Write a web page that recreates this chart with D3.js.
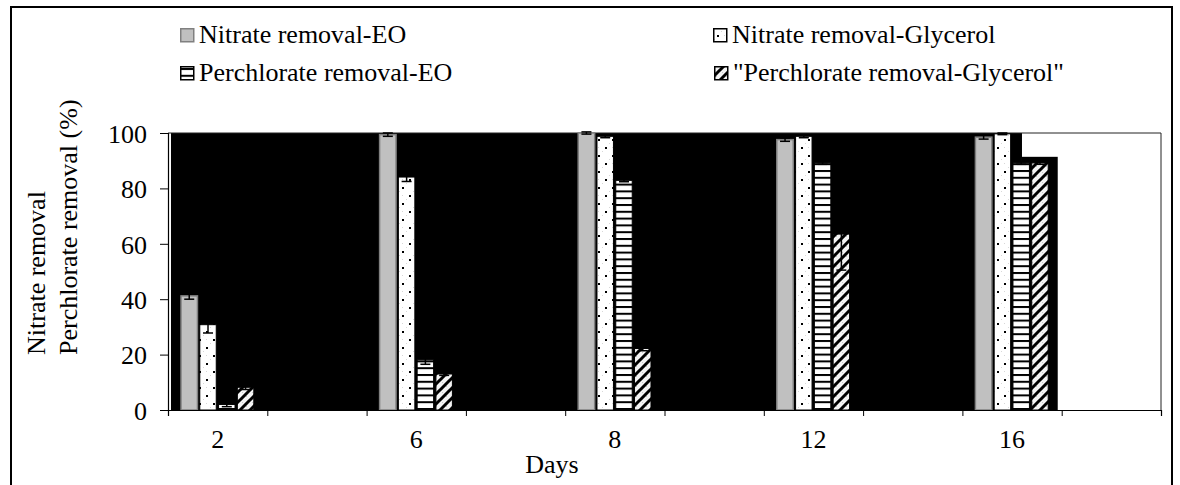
<!DOCTYPE html>
<html><head><meta charset="utf-8">
<script src="https://cdn.jsdelivr.net/npm/d3@7"></script>
<style>
html,body{margin:0;padding:0;background:#fff;}
svg text{font-family:"Liberation Serif","Times New Roman",serif !important;fill:#000;}
</style></head>
<body><svg id="chart" width="1180" height="485"></svg>
<script>
// ---- data ----
const days = ["2", "6", "8", "12", "16"];
const slotCount = 10; // category slots on the axis (labels every other slot)
const seriesNames = ["Nitrate removal-EO", "Nitrate removal-Glycerol", "Perchlorate removal-EO", "\"Perchlorate removal-Glycerol\""];
const nitrateEO = [41.2, 99.4, 100, 97.6, 98.5];
const nitrateGly = [30.8, 84.1, 98.8, 98.8, 99.7];
const perchEO = [2.0, 18.1, 82.9, 89.2, 89.2];
const perchGly = [8.2, 13.0, 22.2, 63.5, 89.2];
const errNitrateEO = [1.2, 0.6, 0.4, 0.6, 0.7];
const errNitrateGly = [3.0, 1.6, 0.5, 0.5, 0.3];
const errPerchEO = [0.8, 1.6, 0.5, 0.5, 0.5];
const errPerchGly = [0.8, 0.5, 0.8, 13.0, 0.5];
const yTicks = [0, 20, 40, 60, 80, 100];
// dark backdrop filling the plot (slot units, value level)
const backdropFrom = [0.03, 8.6];
const backdropTo = [8.6, 8.96];
const backdropLevel = [100, 91.4];

const values = [nitrateEO, nitrateGly, perchEO, perchGly];
const errors = [errNitrateEO, errNitrateGly, errPerchEO, errPerchGly];

const FONT = "'Liberation Serif', 'Times New Roman', serif";
const svg = d3.select("#chart");
const L = 168, R = 1161, T = 133, B = 410;

// patterns
const defs = svg.append("defs");
const pDots = defs.append("pattern").attr("id", "pDots").attr("patternUnits", "userSpaceOnUse").attr("width", 14).attr("height", 16);
pDots.append("rect").attr("width", 14).attr("height", 16).attr("fill", "#fff");
[[0,7],[7,15],[10,3]].forEach(p => pDots.append("rect").attr("x", p[0]).attr("y", p[1]).attr("width", 1).attr("height", 1).attr("fill", "#d8d8d8"));
pDots.append("rect").attr("x", 3).attr("y", 3).attr("width", 2).attr("height", 2).attr("fill", "#000");
pDots.append("rect").attr("x", 10).attr("y", 11).attr("width", 2).attr("height", 2).attr("fill", "#000");

const pH = defs.append("pattern").attr("id", "pH").attr("patternUnits", "userSpaceOnUse").attr("width", 8).attr("height", 6.8);
pH.append("rect").attr("width", 8).attr("height", 6.8).attr("fill", "#fff");
pH.append("rect").attr("y", 0).attr("width", 8).attr("height", 2).attr("fill", "#000");

const pD = defs.append("pattern").attr("id", "pD").attr("patternUnits", "userSpaceOnUse").attr("width", 10).attr("height", 10);
pD.append("rect").attr("width", 10).attr("height", 10).attr("fill", "#f4f4f4");
[[2,2],[6,6],[1,7],[7,1]].forEach(p => pD.append("rect").attr("x", p[0]).attr("y", p[1]).attr("width", 1).attr("height", 1).attr("fill", "#c8c8c8"));
pD.append("path").attr("d", "M-2,2 L2,-2 M0,10 L10,0 M8,12 L12,8").attr("stroke", "#000").attr("stroke-width", 3);

const fills = ["#c0c0c0", "url(#pDots)", "url(#pH)", "url(#pD)"];
const strokes = ["#808080", "#000", "#000", "#000"];

// scales
const slot = d3.scaleLinear().domain([0, slotCount]).range([L, R]);
const slotBand = d3.scaleBand().domain(d3.range(slotCount)).range([L, R]);
const inner = d3.scaleBand().domain(d3.range(seriesNames.length)).range([12.5, slotBand.bandwidth() - 13]).paddingInner(0.07);
const y = d3.scaleLinear().domain([0, 100]).range([B, T]);
const daySlot = (i) => slotBand(i * 2);

// backdrop
svg.append("g").selectAll("rect").data(backdropLevel).join("rect")
  .attr("x", (d, i) => slot(backdropFrom[i]))
  .attr("width", (d, i) => slot(backdropTo[i]) - slot(backdropFrom[i]))
  .attr("y", d => y(d))
  .attr("height", d => B - y(d))
  .attr("fill", "#000");

// plot area border
svg.append("path").attr("d", `M${L},${T}H${R}V${B}`).attr("fill", "none").attr("stroke", "#222").attr("stroke-width", 1);

// bars
values.forEach((arr, s) => {
  const g = svg.append("g");
  g.selectAll("rect").data(arr).join("rect")
    .attr("x", (d, i) => daySlot(i) + inner(s) + 0.5)
    .attr("width", inner.bandwidth() - 1)
    .attr("y", d => y(d))
    .attr("height", d => B - y(d))
    .attr("fill", fills[s])
    .attr("stroke", strokes[s])
    .attr("stroke-width", s === 0 ? 1.5 : 1);
});

// error bars
values.forEach((arr, s) => {
  const g = svg.append("g").attr("stroke", "#000").attr("stroke-width", 1.5);
  arr.forEach((v, i) => {
    const cx = daySlot(i) + inner(s) + inner.bandwidth() / 2;
    const lo = v - errors[s][i], hi = Math.min(v + errors[s][i], 101);
    g.append("line").attr("x1", cx).attr("x2", cx).attr("y1", y(lo)).attr("y2", y(hi));
    g.append("line").attr("x1", cx - 5).attr("x2", cx + 5).attr("y1", y(lo)).attr("y2", y(lo));
    g.append("line").attr("x1", cx - 5).attr("x2", cx + 5).attr("y1", y(hi)).attr("y2", y(hi));
  });
});

// y axis
const yAxis = svg.append("g").attr("transform", `translate(${L},0)`)
  .call(d3.axisLeft(y).tickValues(yTicks).tickSize(8).tickPadding(13).tickFormat(d3.format("d")));
yAxis.attr("font-family", null).attr("font-size", null);
yAxis.select(".domain").attr("stroke", "#000").attr("stroke-width", 1.2);
yAxis.selectAll(".tick line").attr("stroke", "#000");
yAxis.selectAll(".tick text").style("font-family", FONT).style("font-size", "26px").attr("dy", "0.36em");

// x axis: ticks at slot boundaries, labels at day slots
const xAxis = svg.append("g").attr("transform", `translate(0,${B})`)
  .call(d3.axisBottom(slot).tickValues(d3.range(slotCount + 1)).tickSize(6).tickFormat(""));
xAxis.select(".domain").attr("stroke", "#000").attr("stroke-width", 1.2);
xAxis.selectAll(".tick line").attr("stroke", "#000");
svg.append("g").selectAll("text").data(days).join("text")
  .attr("x", (d, i) => daySlot(i) + slotBand.bandwidth() / 2)
  .attr("y", 448)
  .attr("text-anchor", "middle").style("font-size", "26px").text(d => d);

// axis titles
svg.append("text").attr("x", 552).attr("y", 473).attr("text-anchor", "middle").style("font-size", "26px").text("Days");
svg.append("text").attr("transform", "translate(45,355) rotate(-90)").style("font-size", "26px").text("Nitrate removal");
svg.append("text").attr("transform", "translate(77,355) rotate(-90)").style("font-size", "26px").text("Perchlorate removal (%)");

// legend
const legPos = [[180, 43], [713, 43], [180, 81], [714, 81]];
seriesNames.forEach((name, s) => {
  const [lx, ly] = legPos[s];
  svg.append("rect").attr("x", lx + 0.75).attr("y", ly - 14.25).attr("width", 13).attr("height", 13)
    .attr("fill", fills[s]).attr("stroke", s === 0 ? "#808080" : "#000").attr("stroke-width", 1.5);
  svg.append("text").attr("x", lx + 19).attr("y", ly).style("font-size", "26px").text(name);
});

// outer frame
svg.append("rect").attr("x", 11).attr("y", 7).attr("width", 1161).attr("height", 490)
  .attr("fill", "none").attr("stroke", "#000").attr("stroke-width", 2);
</script></body></html>
